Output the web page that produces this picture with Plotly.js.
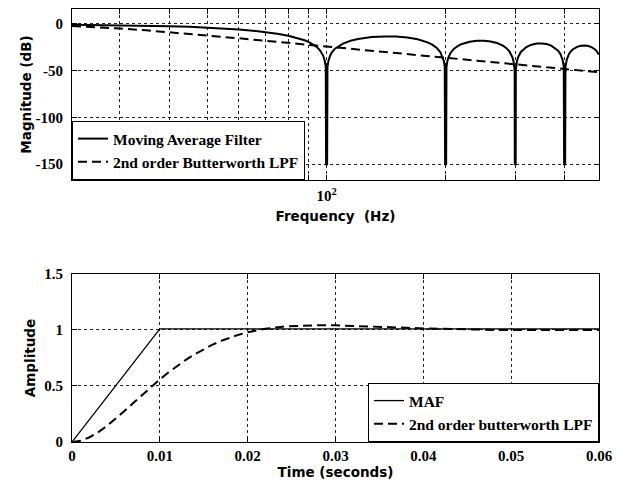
<!DOCTYPE html>
<html>
<head>
<meta charset="utf-8">
<script src="https://cdn.plot.ly/plotly-3.0.1.min.js"></script>
<style>html,body{margin:0;padding:0;background:#fff;}</style>
</head>
<body>
<div id="chart" style="width:635px;height:488px;"></div>
<script>
// ---- Top plot: magnitude response (Hz, dB) ----
const mafFreq = [
  22.7, 25, 30, 35, 40, 45, 50, 55, 60, 65, 70, 75, 80, 85, 88, 90, 92, 94, 96, 97, 98, 99, 99.5,
  99.7, 100.3, 100.5, 101, 102, 103, 105, 108, 110, 115, 120, 130, 140, 150, 160, 170, 180, 185, 190, 194, 197, 198, 199,
  199.4, 200.6, 201, 202, 203, 206, 210, 215, 220, 230, 240, 250, 260, 270, 280, 285, 290, 295, 297, 299,
  299.2, 300.8, 301, 303, 305, 310, 315, 320, 330, 340, 350, 360, 370, 380, 385, 390, 395, 398,
  398.8, 401.2, 402, 405, 410, 415, 420, 430, 440, 450, 460, 470, 480, 488.5
];
const mafDb = [
  -0.75, -0.91, -1.33, -1.83, -2.42, -3.11, -3.92, -4.86, -5.94, -7.20, -8.69, -10.45, -12.62, -15.39, -17.51, -19.23, -21.31, -23.95, -27.63, -30.21, -33.8, -39.9, -46.0,
  -150, -150, -46.1, -40.1, -34.2, -30.73, -26.48, -22.70, -20.97, -18.01, -16.14, -14.06, -13.30, -13.46, -14.46, -16.39, -19.66, -22.15, -25.72, -30.24, -36.36, -39.9, -46.0,
  -150, -150, -46.1, -40.1, -36.6, -30.76, -26.59, -23.45, -21.41, -19.02, -17.98, -17.90, -18.68, -20.41, -23.50, -25.90, -29.39, -35.45, -39.93, -49.5,
  -150, -150, -49.6, -40.1, -35.75, -29.97, -26.77, -24.66, -22.15, -21.01, -20.82, -21.50, -23.15, -26.15, -28.51, -31.97, -37.99, -45.98,
  -150, -150, -46.1, -38.2, -32.40, -29.16, -27.02, -24.45, -23.25, -23.01, -23.63, -25.23, -28.18, -32.75
];
const bwFreq = [22.7, 25, 30, 35, 40, 50, 60, 70, 80, 90, 100, 120, 150, 200, 250, 300, 350, 400, 450, 488.5];
const bwDb   = [-2.25, -3.01, -4.88, -6.85, -8.78, -12.30, -15.34, -17.96, -20.25, -22.28, -24.10, -27.26, -31.13, -36.12, -40.00, -43.17, -45.85, -48.16, -50.21, -51.64];

const freqTickVals = [30, 40, 50, 60, 70, 80, 90, 100, 200, 300, 400];
const freqTickText = ['', '', '', '', '', '', '', '10<sup>2</sup>', '', '', ''];
const dbTickVals = [-150, -100, -50, 0];
const dbTickText = ['-150', '-100', '-50', '0'];

// ---- Bottom plot: step response ----
const mafT    = [0, 0.01, 0.06];
const mafStep = [0, 1.01, 1.01];
const bwT = [0, 0.001, 0.002, 0.003, 0.004, 0.005, 0.006, 0.007, 0.008, 0.009, 0.010,
             0.011, 0.012, 0.013, 0.014, 0.015, 0.016, 0.017, 0.018, 0.019, 0.020,
             0.022, 0.024, 0.026, 0.028, 0.030, 0.032, 0.034, 0.036, 0.038, 0.040,
             0.042, 0.044, 0.046, 0.048, 0.050, 0.055, 0.060];
const bwStep = [0, 0.0114, 0.0425, 0.0884, 0.1453, 0.2098, 0.2787, 0.3500, 0.4214, 0.4915, 0.5586,
                0.6223, 0.6815, 0.7360, 0.7855, 0.8298, 0.8691, 0.9035, 0.9331, 0.9583, 0.9794,
                1.0107, 1.0300, 1.0399, 1.0432, 1.0418, 1.0377, 1.0320, 1.0258, 1.0199, 1.0145,
                1.0099, 1.0061, 1.0032, 1.0011, 0.9997, 0.9995, 0.9998];
const timeTickVals = [0, 0.01, 0.02, 0.03, 0.04, 0.05, 0.06];
const timeTickText = ['0', '0.01', '0.02', '0.03', '0.04', '0.05', '0.06'];
const ampTickVals = [0, 0.5, 1, 1.5];
const ampTickText = ['0', '0.5', '1', '1.5'];

const serifFont  = {family: 'Liberation Serif, Times New Roman, serif', size: 15, weight: 'bold', color: '#000'};
const legendFont = {family: 'Liberation Serif, Times New Roman, serif', size: 15.5, weight: 'bold', color: '#000'};
const sansFont   = {family: 'DejaVu Sans, Verdana, sans-serif', size: 13.5, weight: 'bold', color: '#000'};

const axisBase = {
  showline: true, linecolor: '#000', linewidth: 1, mirror: 'ticks',
  ticks: 'inside', ticklen: 5, tickcolor: '#000', tickwidth: 1,
  showgrid: true, gridcolor: '#222', griddash: 'dot', gridwidth: 1,
  zeroline: false, tickfont: serifFont, automargin: false
};

const traces = [
  {x: mafFreq, y: mafDb, xaxis: 'x', yaxis: 'y', mode: 'lines', name: 'Moving Average Filter',
   line: {color: '#000', width: 2}, legend: 'legend'},
  {x: bwFreq, y: bwDb, xaxis: 'x', yaxis: 'y', mode: 'lines', name: '2nd order Butterworth LPF',
   line: {color: '#000', width: 2, dash: '9px,5px'}, legend: 'legend'},
  {x: mafT, y: mafStep, xaxis: 'x2', yaxis: 'y2', mode: 'lines', name: 'MAF',
   line: {color: '#000', width: 1.3}, legend: 'legend2'},
  {x: bwT, y: bwStep, xaxis: 'x2', yaxis: 'y2', mode: 'lines', name: '2nd order butterworth LPF',
   line: {color: '#000', width: 2, dash: '9px,5px'}, legend: 'legend2'}
];

const legendBase = {
  bordercolor: '#000', borderwidth: 1, bgcolor: '#fff', font: legendFont,
  tracegroupgap: 0, itemwidth: 30
};

const layout = {
  width: 635, height: 488,
  margin: {l: 72, r: 36, t: 9, b: 46},
  paper_bgcolor: '#fff', plot_bgcolor: '#fff',
  showlegend: true,
  xaxis: Object.assign({}, axisBase, {
    type: 'log', range: [1.356, 2.689], anchor: 'y', domain: [0, 1],
    tickmode: 'array', tickvals: freqTickVals, ticktext: freqTickText,
    ticklabelstandoff: 2,
    title: {text: 'Frequency\u00a0 (Hz)', font: sansFont, standoff: 8}
  }),
  yaxis: Object.assign({}, axisBase, {
    range: [-167, 16], anchor: 'x', domain: [0.605, 1],
    tickmode: 'array', tickvals: dbTickVals, ticktext: dbTickText,
    ticklabelstandoff: 5,
    title: {text: 'Magnitude (dB)', font: sansFont, standoff: 0}
  }),
  xaxis2: Object.assign({}, axisBase, {
    range: [0, 0.06], anchor: 'y2', domain: [0, 1],
    tickmode: 'array', tickvals: timeTickVals, ticktext: timeTickText,
    ticklabelstandoff: 0,
    title: {text: 'Time (seconds)', font: sansFont, standoff: 0}
  }),
  yaxis2: Object.assign({}, axisBase, {
    range: [0, 1.5], anchor: 'x2', domain: [0, 0.388],
    tickmode: 'array', tickvals: ampTickVals, ticktext: ampTickText,
    ticklabelstandoff: 5,
    title: {text: 'Amplitude', font: sansFont, standoff: 5}
  }),
  legend: Object.assign({}, legendBase, {x: 0, y: 0.605, xanchor: 'left', yanchor: 'bottom'}),
  legend2: Object.assign({}, legendBase, {x: 1, y: 0, xanchor: 'right', yanchor: 'bottom'})
};

Plotly.newPlot('chart', traces, layout, {displayModeBar: false, staticPlot: true});
</script>
</body>
</html>
